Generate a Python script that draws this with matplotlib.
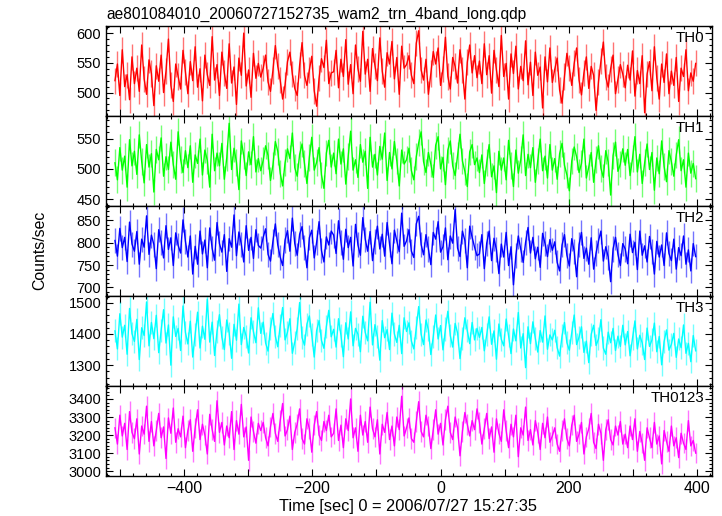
import numpy as np
import matplotlib
matplotlib.use("Agg")
import matplotlib.pyplot as plt
from matplotlib.ticker import MultipleLocator, FuncFormatter

plt.rcParams["font.family"] = ["Liberation Sans", "DejaVu Sans"]

title = "ae801084010_20060727152735_wam2_trn_4band_long.qdp"
xlabel = "Time [sec] 0 = 2006/07/27 15:27:35"
ylabel = "Counts/sec"
names = ["TH0", "TH1", "TH2", "TH3", "TH0123"]
colors = ["#ff0000", "#00ff00", "#0000ff", "#00ffff", "#ff00ff"]

# time bins (s)
t = np.linspace(-508, 398, 240)

th0 = [520, 548, 495, 572, 510, 530, 488, 560, 515, 541, 502, 580, 523, 497, 555, 532, 478, 545, 519, 563, 500, 536, 590, 512, 485, 548, 527, 506, 571, 534,
       498, 552, 520, 577, 509, 540, 486, 563, 530, 512, 594, 521, 547, 495, 568, 533, 507, 582, 516, 543, 480, 558, 529, 600, 511, 538, 492, 566, 524, 549,
       526, 541, 563, 518, 502, 537, 579, 544, 521, 489, 513, 552, 568, 531, 507, 495, 546, 584, 529, 512, 538, 561, 503, 477, 524, 557, 542, 588, 515, 533,
       535, 571, 508, 556, 527, 589, 514, 547, 498, 580, 540, 519, 603, 531, 556, 502, 574, 545, 520, 592, 536, 509, 567, 548, 586, 523, 559, 497, 578, 541,
       547, 562, 529, 515, 583, 604, 538, 521, 556, 497, 532, 569, 548, 575, 512, 540, 593, 527, 506, 559, 544, 516, 572, 538, 489, 551, 580, 533, 562, 525,
       553, 515, 582, 530, 562, 499, 571, 538, 510, 596, 527, 549, 489, 565, 532, 578, 506, 544, 520, 587, 513, 551, 495, 568, 529, 543, 474, 560, 518, 575,
       517, 539, 558, 504, 482, 527, 566, 541, 512, 549, 575, 521, 496, 533, 560, 507, 544, 529, 470, 518, 553, 585, 526, 509, 540, 563, 498, 522, 547, 531,
       508, 546, 521, 570, 494, 537, 515, 562, 466, 531, 552, 503, 577, 524, 489, 548, 517, 565, 498, 536, 512, 559, 485, 541, 527, 572, 503, 533, 519, 549]

th1 = [510, 482, 535, 498, 521, 470, 548, 505, 529, 491, 556, 512, 477, 540, 503, 525, 462, 532, 515, 551, 488, 520, 499, 544, 507, 483, 561, 516, 494, 530,
       502, 538, 478, 523, 509, 549, 490, 531, 514, 470, 557, 497, 526, 505, 542, 483, 518, 575, 499, 534, 511, 466, 546, 522, 489, 528, 507, 553, 495, 517,
       497, 514, 538, 522, 481, 506, 545, 529, 493, 472, 510, 533, 517, 559, 502, 488, 524, 541, 509, 476, 519, 552, 498, 511, 535, 490, 468, 526, 547, 503,
       526, 492, 549, 508, 533, 475, 521, 562, 498, 515, 486, 540, 511, 529, 468, 552, 503, 524, 490, 537, 516, 559, 481, 527, 500, 545, 513, 472, 531, 508,
       515, 534, 497, 482, 520, 543, 561, 512, 494, 527, 508, 486, 539, 553, 500, 519, 474, 531, 546, 505, 489, 522, 557, 513, 496, 471, 528, 540, 507, 518,
       494, 523, 476, 510, 540, 487, 505, 461, 529, 498, 518, 482, 547, 506, 471, 531, 493, 515, 556, 489, 524, 502, 535, 478, 513, 549, 497, 521, 485, 540,
       498, 517, 483, 525, 542, 506, 490, 464, 513, 536, 520, 494, 509, 549, 485, 503, 527, 478, 515, 538, 501, 486, 530, 511, 457, 522, 544, 496, 508, 533,
       506, 532, 489, 517, 553, 495, 524, 476, 510, 541, 499, 527, 465, 518, 492, 546, 504, 479, 530, 512, 488, 523, 548, 497, 515, 470, 526, 493, 509, 484]

th2 = [805, 770, 832, 789, 812, 758, 846, 797, 781, 825, 752, 808, 790, 860, 774, 817, 796, 742, 829, 801, 766, 838, 785, 811, 749, 822, 794, 777, 851, 803,
       768, 815, 730, 792, 752, 826, 775, 806, 744, 833, 787, 761, 845, 798, 779, 818, 736, 809, 790, 862, 771, 824, 797, 757, 838, 783, 812, 765, 829, 794,
       788, 812, 831, 774, 759, 803, 842, 795, 768, 749, 806, 827, 781, 855, 798, 772, 819, 836, 790, 744, 811, 828, 766, 801, 847, 782, 757, 813, 795, 826,
       817, 776, 849, 801, 763, 830, 789, 812, 748, 841, 795, 772, 856, 808, 781, 825, 760, 803, 837, 786, 819, 770, 845, 797, 753, 828, 804, 780, 866, 792,
       804, 829, 781, 767, 842, 859, 796, 773, 818, 786, 751, 823, 808, 847, 779, 791, 833, 762, 815, 799, 874, 788, 769, 826, 805, 744, 837, 812, 790, 771,
       775, 818, 742, 799, 826, 760, 810, 784, 731, 797, 768, 823, 749, 791, 706, 772, 815, 785, 756, 801, 834, 777, 812, 764, 790, 745, 821, 798, 769, 807,
       783, 802, 756, 737, 795, 818, 772, 748, 809, 781, 724, 796, 823, 765, 788, 752, 811, 741, 777, 804, 826, 759, 791, 768, 713, 786, 812, 774, 749, 798,
       786, 753, 819, 778, 801, 740, 826, 772, 793, 757, 814, 781, 730, 803, 768, 795, 749, 822, 776, 760, 808, 741, 789, 771, 815, 752, 784, 737, 798, 769]

th3 = [1410, 1352, 1465, 1390, 1428, 1335, 1482, 1401, 1376, 1447, 1318, 1420, 1395, 1503, 1362, 1437, 1385, 1460, 1340, 1412, 1478, 1371, 1429, 1300, 1455, 1392, 1418, 1347, 1490, 1405,
       1368, 1441, 1326, 1397, 1470, 1355, 1425, 1383, 1512, 1374, 1438, 1331, 1409, 1462, 1389, 1350, 1445, 1403, 1322, 1431, 1380, 1496, 1366, 1421, 1393, 1339, 1452, 1407, 1372, 1484,
       1402, 1438, 1371, 1345, 1419, 1466, 1393, 1359, 1427, 1485, 1381, 1406, 1449, 1338, 1374, 1417, 1501, 1388, 1364, 1432, 1458, 1397, 1326, 1411, 1443, 1379, 1354, 1424, 1476, 1391,
       1415, 1358, 1449, 1396, 1327, 1436, 1384, 1471, 1362, 1418, 1399, 1343, 1457, 1405, 1378, 1502, 1365, 1430, 1391, 1316, 1443, 1388, 1414, 1350, 1467, 1400, 1373, 1428, 1337, 1452,
       1408, 1436, 1377, 1352, 1421, 1488, 1399, 1366, 1445, 1413, 1334, 1392, 1461, 1384, 1427, 1349, 1416, 1473, 1395, 1358, 1434, 1403, 1321, 1386, 1452, 1410, 1369, 1437, 1381, 1418,
       1389, 1421, 1346, 1398, 1455, 1367, 1410, 1319, 1432, 1383, 1362, 1448, 1394, 1337, 1416, 1378, 1469, 1355, 1401, 1292, 1423, 1369, 1439, 1386, 1342, 1411, 1374, 1458, 1351, 1397,
       1381, 1412, 1356, 1329, 1394, 1437, 1372, 1348, 1405, 1461, 1366, 1390, 1423, 1341, 1377, 1308, 1399, 1428, 1363, 1384, 1446, 1355, 1335, 1406, 1372, 1418, 1347, 1393, 1360, 1428,
       1365, 1408, 1330, 1387, 1442, 1352, 1396, 1371, 1318, 1419, 1360, 1381, 1435, 1343, 1392, 1301, 1376, 1413, 1348, 1367, 1402, 1325, 1384, 1356, 1429, 1338, 1370, 1311, 1395, 1346]

th0123 = [3240, 3150, 3310, 3195, 3265, 3120, 3330, 3215, 3180, 3290, 3095, 3250, 3205, 3360, 3165, 3275, 3140, 3225, 3320, 3185, 3245, 3070, 3295, 3210, 3350, 3160, 3235, 3190, 3305, 3130,
          3225, 3285, 3110, 3240, 3340, 3175, 3260, 3200, 3095, 3315, 3230, 3165, 3390, 3215, 3270, 3145, 3250, 3185, 3330, 3120, 3280, 3205, 3370, 3190, 3245, 3060, 3300, 3220, 3155, 3265,
          3225, 3270, 3185, 3140, 3245, 3320, 3210, 3165, 3280, 3375, 3195, 3230, 3305, 3120, 3215, 3260, 3345, 3180, 3150, 3290, 3235, 3105, 3255, 3330, 3200, 3170, 3275, 3225, 3310, 3190,
          3210, 3345, 3170, 3255, 3130, 3290, 3225, 3400, 3185, 3240, 3110, 3310, 3200, 3275, 3160, 3355, 3235, 3190, 3285, 3095, 3260, 3215, 3325, 3175, 3250, 3140, 3300, 3230, 3415, 3195,
          3240, 3295, 3180, 3160, 3275, 3385, 3220, 3190, 3310, 3250, 3125, 3230, 3340, 3205, 3265, 3145, 3285, 3360, 3215, 3175, 3300, 3240, 3085, 3220, 3325, 3260, 3195, 3280, 3230, 3345,
          3270, 3150, 3235, 3320, 3180, 3245, 3105, 3290, 3210, 3165, 3340, 3225, 3130, 3260, 3190, 3310, 3080, 3240, 3200, 3355, 3170, 3230, 3145, 3280, 3215, 3120, 3265, 3185, 3300, 3160,
          3195, 3240, 3150, 3110, 3225, 3290, 3180, 3140, 3255, 3310, 3165, 3205, 3270, 3095, 3190, 3235, 3320, 3160, 3125, 3260, 3210, 3060, 3230, 3285, 3175, 3145, 3250, 3200, 3275, 3150,
          3205, 3130, 3250, 3175, 3290, 3110, 3220, 3155, 3060, 3240, 3185, 3130, 3270, 3150, 3195, 3040, 3225, 3165, 3110, 3250, 3140, 3185, 3075, 3210, 3155, 3120, 3280, 3140, 3170, 3100]

series = [th0, th1, th2, th3, th0123]
errors = [22, 22, 28, 37, 57]  # typical 1-sigma per bin

ylims = [(460.5, 612), (439, 587), (681, 882), (1233, 1522), (2973, 3472)]
yticks = [[500, 550, 600], [450, 500, 550], [700, 750, 800, 850],
          [1300, 1400, 1500], [3000, 3100, 3200, 3300, 3400]]
yminor = [10, 10, 10, 20, 20]

fig = plt.figure(figsize=(7.22, 5.16), dpi=100)
left, right, top, bottom = 106 / 722, 711.7 / 722, 1 - 26 / 516, 1 - 476 / 516
h = (top - bottom) / 5

for i in range(5):
    ax = fig.add_axes([left, top - (i + 1) * h, right - left, h])
    ax.errorbar(t, series[i], yerr=errors[i], fmt="none", ecolor=colors[i],
                elinewidth=1.0, alpha=0.55)
    ax.plot(t, series[i], color=colors[i], lw=1.0)
    ax.set_xlim(-522, 423)
    ax.set_ylim(*ylims[i])
    ax.set_yticks(yticks[i])
    ax.yaxis.set_minor_locator(MultipleLocator(yminor[i]))
    ax.xaxis.set_major_locator(MultipleLocator(100))
    ax.xaxis.set_minor_locator(MultipleLocator(20))
    ax.tick_params(which="both", direction="in", top=True, right=True, width=0.8)
    ax.tick_params(axis="y", labelsize=10.5)
    ax.tick_params(axis="x", labelsize=11.5)
    ax.tick_params(which="major", length=5)
    ax.tick_params(which="minor", length=2.5)
    for s in ax.spines.values():
        s.set_linewidth(1.0)
    ax.text(0.987, 0.945, names[i], transform=ax.transAxes, ha="right",
            va="top", fontsize=10.8)
    if i < 4:
        ax.tick_params(labelbottom=False)
    else:
        ax.xaxis.set_major_formatter(FuncFormatter(
            lambda v, p: f"{int(v)}".replace("-", "\u2212") if int(v) % 200 == 0 else ""))

fig.text(left + 0.001, 1 - 14 / 516, title, ha="left", va="center", fontsize=11.2)
fig.text(408 / 722, 1 - 507 / 516, xlabel, ha="center", va="center", fontsize=11.8)
fig.text(40 / 722, 1 - 250 / 516, ylabel, ha="center", va="center",
         rotation=90, fontsize=11.4)

fig.savefig("out.png", dpi=100)
